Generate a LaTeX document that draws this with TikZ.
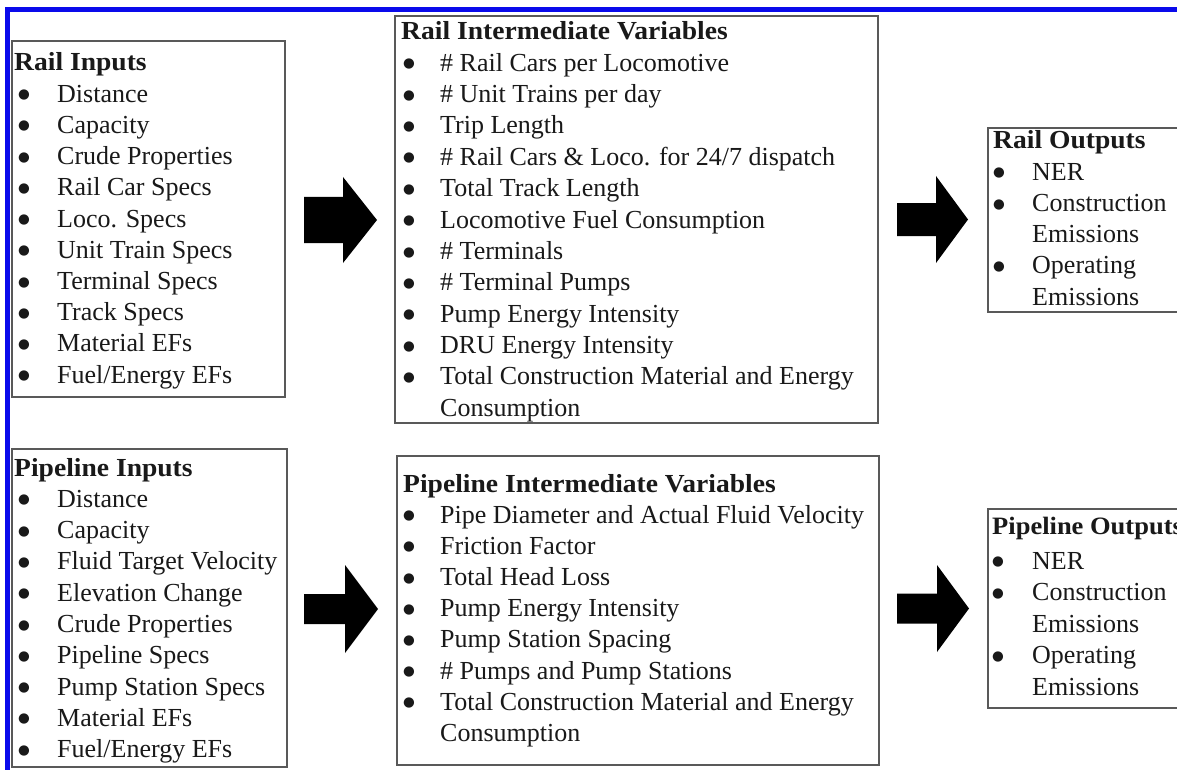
\documentclass[tikz,border=0pt]{standalone}
\usepackage{fontspec}
\usepackage{graphicx}
\setmainfont{Liberation Serif}[BoldFeatures={FakeStretch=1.06}]
\newfontfamily\dvfont{DejaVu Sans}
\usetikzlibrary{fit}
\newcommand\bulletmark{\raisebox{3.4pt}{\dvfont\fontsize{13.5}{13.5}\selectfont ●}}
\newcommand\bitem[1]{\hspace*{\bo pt}\makebox[\dimexpr\tx pt-\bo pt\relax][l]{\bulletmark}#1}
\newcommand\citem[1]{\hspace*{\tx pt}#1}
\newcommand\boxtext[9]{%
  \def\bo{#3}\def\tx{#4}%
  \node[lbl] (#1-0) at (#2,#5) {\bfseries #8};
  \foreach \t [count=\i] in {#9} {
    \node[lbl] (#1-\i) at (#2,{#6+(\i-1)*#7}) {\t};
  }
}
\newcommand\blockarrow[6]{%
  \fill[arrowfill] (#1,{#4-#5}) -- (#2,{#4-#5}) -- (#2,{#4-#6}) -- (#3,#4)
    -- (#2,{#4+#6}) -- (#2,{#4+#5}) -- (#1,{#4+#5}) -- cycle;}
\definecolor{frameblue}{RGB}{10,10,235}
\begin{document}
\begin{tikzpicture}[x=1pt,y=-1pt,
  box/.style={draw=black!65, line width=1.4pt, inner sep=0pt},
  lbl/.style={anchor=base west, inner sep=0pt, text=black!90,
    font=\fontsize{26}{31.2}\selectfont},
  arrowfill/.style={fill=black}]
\useasboundingbox (0,0) rectangle (1177,770);
\clip (0,0) rectangle (1177,770);
\fill[white] (0,0) rectangle (1177,770);
\draw[frameblue, line width=5pt] (7.5,800) -- (7.5,9.5) -- (1200,9.5);

% boxes
\node[box, fit={(12,41) (285,397)}] (ri) {};
\node[box, fit={(395,16) (878,423)}] (rv) {};
\node[box, fit={(988,128) (1183,312)}] (ro) {};
\node[box, fit={(12,449) (287,767)}] (pi) {};
\node[box, fit={(397,456) (879,765)}] (pv) {};
\node[box, fit={(988,509) (1183,708)}] (po) {};

% texts
\boxtext{rit}{14}{4}{43}{71}{102.2}{31.2}{Rail Inputs}{
  {\bitem{Distance}},{\bitem{Capacity}},{\bitem{Crude Properties}},
  {\bitem{Rail Car Specs}},{\bitem{Loco. Specs}},{\bitem{Unit Train Specs}},
  {\bitem{Terminal Specs}},{\bitem{Track Specs}},{\bitem{Material EFs}},
  {\bitem{Fuel/Energy EFs}}}
\boxtext{rvt}{401}{2}{39}{40}{71.3}{31.35}{Rail Intermediate Variables}{
  {\bitem{\# Rail Cars per Locomotive}},{\bitem{\# Unit Trains per day}},
  {\bitem{Trip Length}},{\bitem{\# Rail Cars \& Loco. for 24/7 dispatch}},
  {\bitem{Total Track Length}},{\bitem{Locomotive Fuel Consumption}},
  {\bitem{\# Terminals}},{\bitem{\# Terminal Pumps}},
  {\bitem{Pump Energy Intensity}},{\bitem{DRU Energy Intensity}},
  {\bitem{Total Construction Material and Energy}},{\citem{Consumption}}}
\boxtext{rot}{993}{0}{39}{149}{180.2}{31.2}{Rail Outputs}{
  {\bitem{NER}},{\bitem{Construction}},{\citem{Emissions}},
  {\bitem{Operating}},{\citem{Emissions}}}
\boxtext{pit}{14}{4}{43}{476}{507.2}{31.3}{Pipeline Inputs}{
  {\bitem{Distance}},{\bitem{Capacity}},{\bitem{Fluid Target Velocity}},
  {\bitem{Elevation Change}},{\bitem{Crude Properties}},
  {\bitem{Pipeline Specs}},{\bitem{Pump Station Specs}},
  {\bitem{Material EFs}},{\bitem{Fuel/Energy EFs}}}
\boxtext{pvt}{403}{0}{37}{492}{523.1}{31.2}{Pipeline Intermediate Variables}{
  {\bitem{Pipe Diameter and Actual Fluid Velocity}},{\bitem{Friction Factor}},
  {\bitem{Total Head Loss}},{\bitem{Pump Energy Intensity}},
  {\bitem{Pump Station Spacing}},{\bitem{\# Pumps and Pump Stations}},
  {\bitem{Total Construction Material and Energy}},{\citem{Consumption}}}
\boxtext{pot}{992}{0}{40}{534}{569}{31.5}{{\fontsize{25}{31.2}\selectfont Pipeline Outputs}}{
  {\bitem{NER}},{\bitem{Construction}},{\citem{Emissions}},
  {\bitem{Operating}},{\citem{Emissions}}}

% block arrows
\blockarrow{304}{343}{377}{220}{23}{43}
\blockarrow{897}{936}{968}{219.5}{16.5}{43.5}
\blockarrow{304}{345}{378}{609}{15}{44}
\blockarrow{897}{937}{969}{608.5}{15}{43.5}
\end{tikzpicture}
\end{document}
